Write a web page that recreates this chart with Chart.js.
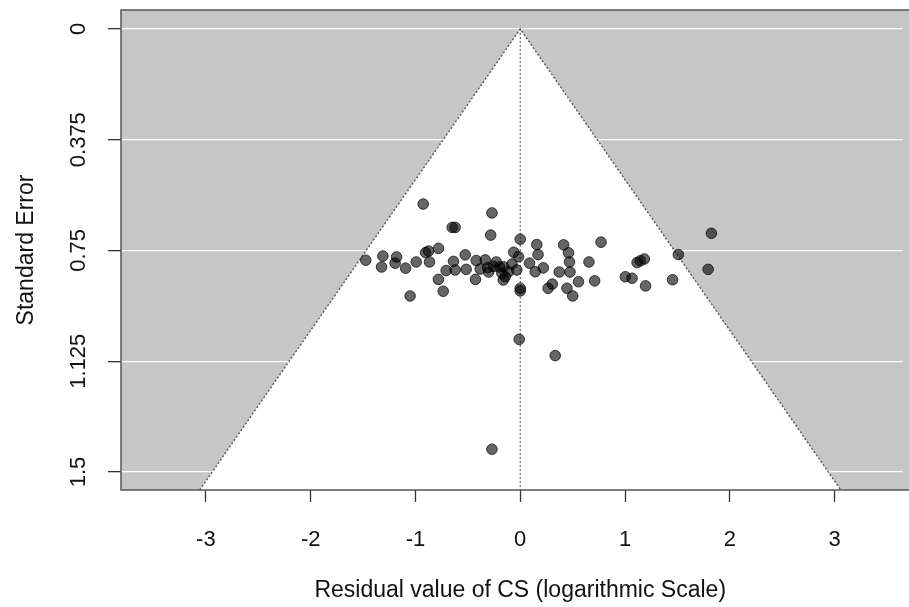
<!DOCTYPE html>
<html>
<head>
<meta charset="utf-8">
<script src="https://cdn.jsdelivr.net/npm/chart.js@4/dist/chart.umd.min.js"></script>
<style>
  html, body { margin: 0; padding: 0; background: #fff; }
  #wrap { width: 909px; height: 607px; }
</style>
</head>
<body>
<div id="wrap"><canvas id="funnel" width="909" height="607"></canvas></div>
<script>
// funnel plot: residuals vs standard error
const residualValues = [
  -0.926, -0.270, -0.649, -0.621, -0.282, 0.000, 0.771, 1.824, 1.509, 1.793,
  -1.474, -1.311, -1.323, -1.180, -1.194, -1.094, -0.993, -0.903, -0.874, -0.780,
  -0.866, -0.781, -0.735, -1.051, -0.707, -0.637, -0.621, -0.525, -0.516, -0.427,
  -0.420, -0.334, -0.382, -0.310, -0.255, -0.198, -0.160, -0.175, -0.143, -0.112,
  -0.079, -0.062, -0.016, -0.033, 0.000, 0.000, 0.088, 0.143, 0.158, 0.170,
  0.220, 0.414, 0.461, 0.470, 0.656, 0.372, 0.475, 0.556, 0.710, 0.306,
  0.266, 0.446, 0.501, 1.115, 1.146, 1.184, 1.003, 1.067, 1.196, 1.454,
  -0.010, 0.334, -0.270, -0.229, -0.162, -0.301
];
const standardErrors = [
  0.593, 0.623, 0.672, 0.672, 0.698, 0.712, 0.722, 0.692, 0.764, 0.814,
  0.783, 0.769, 0.806, 0.772, 0.793, 0.810, 0.789, 0.757, 0.752, 0.743,
  0.789, 0.848, 0.888, 0.904, 0.818, 0.787, 0.816, 0.765, 0.814, 0.848,
  0.784, 0.782, 0.813, 0.808, 0.804, 0.806, 0.805, 0.827, 0.839, 0.822,
  0.796, 0.756, 0.771, 0.816, 0.878, 0.887, 0.793, 0.822, 0.730, 0.764,
  0.809, 0.731, 0.758, 0.789, 0.789, 0.823, 0.823, 0.856, 0.853, 0.864,
  0.878, 0.878, 0.904, 0.791, 0.785, 0.779, 0.839, 0.844, 0.870, 0.849,
  1.051, 1.106, 1.423, 0.789, 0.850, 0.823
];

const xTicks = [-3, -2, -1, 0, 1, 2, 3];
const yTicks = [0, 0.375, 0.75, 1.125, 1.5];
const yTickLabels = ['0', '0.375', '0.75', '1.125', '1.5'];

const xTitle = 'Residual value of CS (logarithmic Scale)';
const yTitle = 'Standard Error';

// funnel: 95% pseudo confidence limits around 0
const z = 1.96;
const seBottom = 1.561;
const funnelEdge = [
  { x: -z * seBottom, y: seBottom },
  { x: 0, y: 0 },
  { x: z * seBottom, y: seBottom }
];
const centerLine = [{ x: 0, y: 0 }, { x: 0, y: seBottom }];

const points = residualValues.map((v, i) => ({ x: v, y: standardErrors[i] }));

const TICK_FONT = '22px "Liberation Sans", Arial, sans-serif';
const TITLE_FONT = '23px "Liberation Sans", Arial, sans-serif';

const funnelFrame = {
  id: 'funnelFrame',
  beforeDraw(chart) {
    const { ctx, chartArea: a } = chart;
    ctx.save();
    ctx.fillStyle = '#c6c6c6';
    ctx.fillRect(a.left, a.top, chart.width - a.left, a.bottom - a.top);
    ctx.restore();
  },
  afterDraw(chart) {
    const { ctx, chartArea: a } = chart;
    const xs = chart.scales.x, ys = chart.scales.y;
    ctx.save();
    ctx.strokeStyle = '#555';
    ctx.lineWidth = 1.5;
    ctx.strokeRect(a.left, a.top, chart.width - a.left + 20, a.bottom - a.top);

    ctx.fillStyle = '#111';
    ctx.font = TICK_FONT;
    ctx.textAlign = 'center';
    ctx.textBaseline = 'alphabetic';
    xs.ticks.forEach(t => {
      ctx.fillText(String(t.value), xs.getPixelForValue(t.value), 546);
    });
    ys.ticks.forEach((t, i) => {
      ctx.save();
      ctx.translate(85, ys.getPixelForValue(t.value));
      ctx.rotate(-Math.PI / 2);
      ctx.fillText(yTickLabels[i], 0, 0);
      ctx.restore();
    });

    ctx.font = TITLE_FONT;
    ctx.fillText(xTitle, xs.getPixelForValue(0), 597);
    ctx.translate(33, (a.top + a.bottom) / 2);
    ctx.rotate(-Math.PI / 2);
    ctx.fillText(yTitle, 0, 0);
    ctx.restore();
  }
};

new Chart(document.getElementById('funnel').getContext('2d'), {
  type: 'scatter',
  data: {
    datasets: [
      {
        type: 'line',
        data: funnelEdge,
        fill: 'start',
        backgroundColor: '#ffffff',
        borderColor: '#555',
        borderWidth: 1.4,
        borderDash: [2, 2],
        pointRadius: 0,
        tension: 0,
        order: 3
      },
      {
        type: 'line',
        data: centerLine,
        fill: false,
        borderColor: '#555',
        borderWidth: 1.1,
        borderDash: [2, 2],
        pointRadius: 0,
        order: 2
      },
      {
        data: points,
        backgroundColor: 'rgba(0,0,0,0.6)',
        borderColor: 'rgba(0,0,0,0.7)',
        borderWidth: 1,
        pointRadius: 5.3,
        order: 1
      }
    ]
  },
  options: {
    responsive: false,
    animation: false,
    events: [],
    layout: { padding: { left: 108, top: 10, right: 0, bottom: 105 } },
    plugins: {
      legend: { display: false },
      tooltip: { enabled: false }
    },
    scales: {
      x: {
        type: 'linear',
        min: -3.81,
        max: 3.65,
        afterBuildTicks: s => { s.ticks = xTicks.map(v => ({ value: v })); },
        ticks: { display: false },
        border: { display: false },
        grid: { drawOnChartArea: false, tickColor: '#333', tickLength: 12, tickWidth: 1.3 }
      },
      y: {
        type: 'linear',
        reverse: true,
        min: -0.064,
        max: 1.561,
        afterBuildTicks: s => { s.ticks = yTicks.map(v => ({ value: v })); },
        ticks: { display: false },
        border: { display: false },
        grid: { color: '#ffffff', lineWidth: 1.3, tickColor: '#333', tickLength: 13, tickWidth: 1.3 }
      }
    }
  },
  plugins: [funnelFrame]
});
</script>
</body>
</html>
